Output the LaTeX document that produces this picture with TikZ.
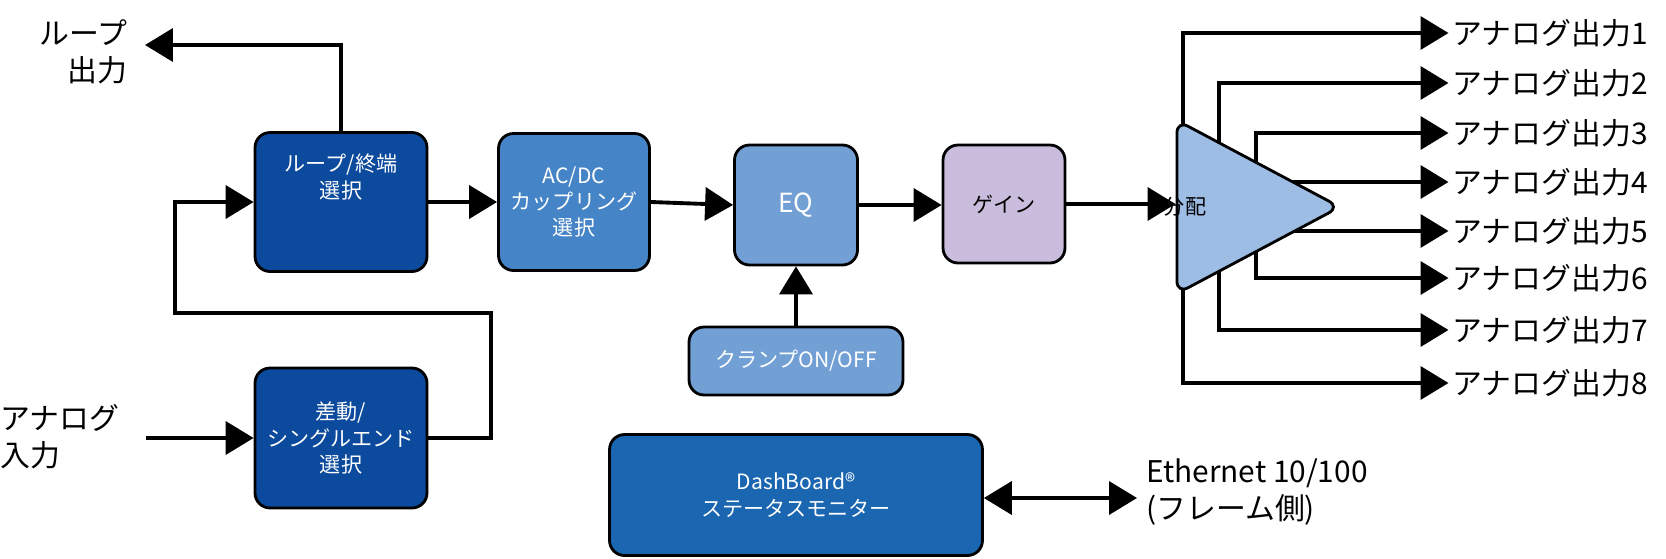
\documentclass[tikz,border=0pt]{standalone}
\usepackage{fontspec}
\setmainfont{Noto Sans CJK JP}
\usetikzlibrary{arrows.meta, shapes.geometric, backgrounds}

\definecolor{selblue}{HTML}{0B4A9C}
\definecolor{acblue}{HTML}{4584C6}
\definecolor{eqblue}{HTML}{72A0D5}
\definecolor{gainlilac}{HTML}{CABCDC}
\definecolor{dashblue}{HTML}{1A66B0}
\definecolor{distblue}{HTML}{9DBDE5}

\tikzset{
  block/.style = {draw=black, line width=1.6pt, rounded corners=0.3cm, align=center,
                  inner sep=1pt, font=\fontsize{12}{15}\selectfont},
  sig/.style = {draw=black, line width=2.2pt, -{Triangle[length=5.6mm,width=6.6mm]}},
  outlbl/.style = {anchor=west, font=\fontsize{17}{21}\selectfont, inner sep=0pt},
}

\begin{document}
\begin{tikzpicture}[x=0.02cm, y=-0.02cm]
\useasboundingbox (0,0) rectangle (1666,558);

% blocks
\node[block, fill=selblue, text=white, minimum width=3.44cm, minimum height=2.78cm] (loop) at (341,202) {ループ/終端\\選択\\[1.2em]};
\node[block, fill=selblue, text=white, minimum width=3.44cm, minimum height=2.80cm] (diff) at (341,438) {差動/\\シングルエンド\\選択};
\node[block, fill=acblue, text=white, minimum width=3.02cm, minimum height=2.74cm] (acdc) at (574,202) {AC/DC\\カップリング\\選択};
\node[block, fill=eqblue, text=white, minimum width=2.46cm, minimum height=2.40cm, font=\fontsize{15}{18}\selectfont] (eq) at (796,205) {EQ};
\node[block, fill=gainlilac, text=black, minimum width=2.44cm, minimum height=2.36cm] (gain) at (1004,204) {ゲイン};
\node[block, fill=eqblue, text=white, minimum width=4.28cm, minimum height=1.36cm] (clamp) at (796,361) {クランプON/OFF};
\node[block, fill=dashblue, text=white, minimum width=7.46cm, minimum height=2.42cm] (dash) at (796,495) {DashBoard®\\ステータスモニター};
\node[isosceles triangle, isosceles triangle apex angle=56, draw=black, line width=1.6pt,
      fill=distblue, rounded corners=0.25cm, minimum height=3.26cm, inner sep=0pt,
      font=\fontsize{12}{15}\selectfont] (dist) at (1229,207) {};
\node[font=\fontsize{12}{15}\selectfont] at (1185,207) {分配};

% outer labels
\node[anchor=east, align=right, font=\fontsize{17}{21}\selectfont, inner sep=0pt] (loopl) at (128,52) {ループ\\出力};
\node[anchor=west, align=left, font=\fontsize{17}{21}\selectfont, inner sep=0pt] (inl) at (0,437) {アナログ\\入力};
\node[anchor=west, align=left, font=\fontsize{17}{21}\selectfont, inner sep=0pt] (ethl) at (1146,492) {Ethernet 10/100\\(フレーム側)};

\coordinate (loopout) at (145,45);
\coordinate (instart) at (146,438);
\coordinate (fbR) at (491,313);
\coordinate (fbL) at (175,202);
\coordinate (eth) at (1137,498);

% signal path
\draw[sig] (loop.north) |- (loopout);
\draw[sig] (instart) -- (diff.west);
\draw[sig] (diff.east) -| (fbR) -| (fbL) -- (loop.west);
\draw[sig] (loop.east) -- (acdc.west);
\draw[sig] (acdc.east) -- (eq.west);
\draw[sig] (eq.east) -- (gain.west |- eq.east);
\draw[sig] (gain.east) -- (dist.west |- gain.east);
\draw[sig] (clamp.north) -- (eq.south);
\draw[sig, {Triangle[length=5.6mm,width=6.6mm]}-{Triangle[length=5.6mm,width=6.6mm]}] (dash.east |- eth) -- (eth);

% outputs
\foreach \i/\y in {1/33,2/83,3/133,4/182,5/231,6/278,7/330,8/383}
  \node[outlbl] (out\i) at (1452,\y) {アナログ出力\i};
\begin{scope}[on background layer]
\foreach \i/\dx in {1/-46,2/-10,3/27,4/40,5/40,6/27,7/-10,8/-46}
  \draw[sig, shorten >=2pt] ([xshift=\dx*0.02cm]dist.center) |- (out\i.west);
\end{scope}
\end{tikzpicture}
\end{document}
